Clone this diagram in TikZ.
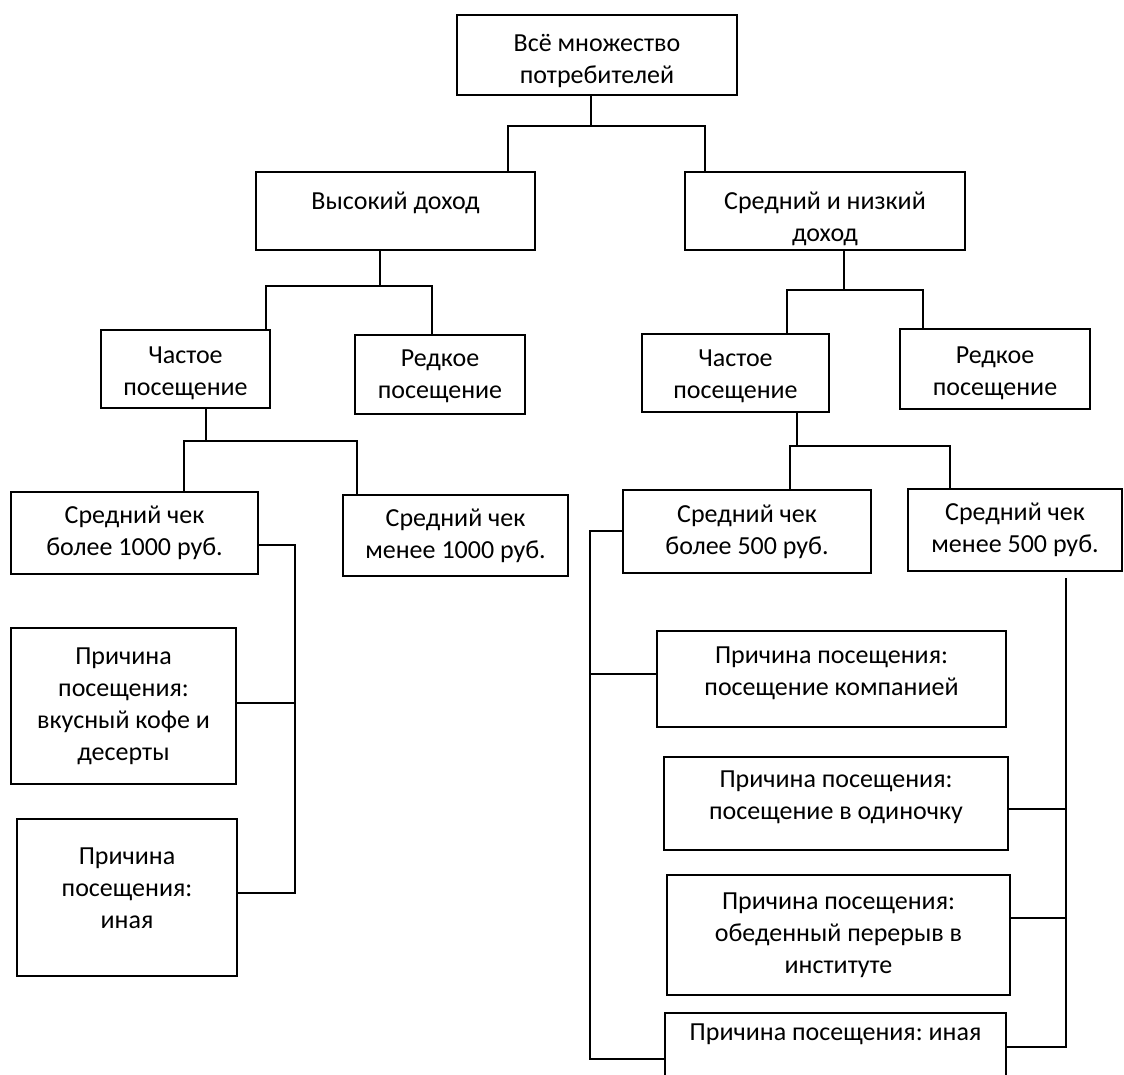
\documentclass[tikz,border=0pt]{standalone}
\usepackage{fontspec}
\setmainfont{Carlito}
\frenchspacing

\tikzset{
  box/.style={draw, line width=1pt, inner sep=0pt, align=center,
    font=\fontsize{13}{16}\selectfont},
  link/.style={line width=0.9pt},
}

\begin{document}
\begin{tikzpicture}[x=0.5pt,y=-0.5pt]
\useasboundingbox (0,0) rectangle (1124,1075);
\clip (0,0) rectangle (1124,1075);

\node[box, minimum width=140pt, minimum height=40pt, text height=30.5pt] (all) at (597,55) {Всё множество\\потребителей};

\node[box, minimum width=139.5pt, minimum height=39pt, text depth=10.5pt] (high) at (395.5,211) {Высокий доход};
\node[box, minimum width=140pt, minimum height=39pt, text height=33pt] (midlow) at (825,211) {Средний и низкий\\доход};

\node[box, minimum width=84.5pt, minimum height=39pt, text height=28.5pt] (freqA) at (185.5,369) {Частое\\посещение};
\node[box, minimum width=85pt, minimum height=39.5pt, text height=26.5pt] (rareA) at (440,374.5) {Редкое\\посещение};
\node[box, minimum width=93.5pt, minimum height=39pt, text height=27.5pt] (freqB) at (735.5,373) {Частое\\посещение};
\node[box, minimum width=95pt, minimum height=40pt, text height=28.5pt] (rareB) at (995,369) {Редкое\\посещение};

\node[box, minimum width=123.5pt, minimum height=41pt] (over1000) at (134.5,533) {Средний чек\\более 1000 руб.};
\node[box, minimum width=112.5pt, minimum height=40.5pt] (under1000) at (455.5,535.5) {Средний чек\\менее 1000 руб.};
\node[box, minimum width=124pt, minimum height=41.5pt] (over500) at (747,531.5) {Средний чек\\более 500 руб.};
\node[box, minimum width=107pt, minimum height=41pt] (under500) at (1015,530) {Средний чек\\менее 500 руб.};

\node[box, minimum width=112.5pt, minimum height=78pt] (tasteA) at (123.5,706) {Причина\\посещения:\\вкусный кофе и\\десерты};
\node[box, minimum width=110pt, minimum height=78.5pt, text depth=9pt] (otherA) at (127,897.5) {Причина\\посещения:\\иная};

\node[box, minimum width=174.5pt, minimum height=48pt, text depth=8.3pt] (company) at (831.5,679) {Причина посещения:\\посещение компанией};
\node[box, minimum width=172pt, minimum height=46.5pt, text depth=8.5pt] (alone) at (836,803.5) {Причина посещения:\\посещение в одиночку};
\node[box, minimum width=171.5pt, minimum height=60pt] (lunch) at (838.5,935) {Причина посещения:\\обеденный перерыв в\\институте};
\node[box, minimum width=170.5pt, minimum height=43.5pt, text depth=24pt] (otherB) at (835.5,1056.5) {Причина посещения: иная};

\coordinate (t1) at (591,126);
\coordinate (t1l) at (508,126);
\coordinate (t1r) at (705,126);
\draw[link] (all.south -| t1) -- (t1);
\draw[link] (high.north -| t1l) |- (t1r) -- (midlow.north -| t1r);

\coordinate (t2) at (380,286);
\coordinate (t2l) at (266,286);
\coordinate (t2r) at (432,286);
\draw[link] (high.south -| t2) -- (t2);
\draw[link] (freqA.north -| t2l) |- (t2r) -- (rareA.north -| t2r);

\coordinate (t3) at (844,290);
\coordinate (t3l) at (787,290);
\coordinate (t3r) at (923,290);
\draw[link] (midlow.south -| t3) -- (t3);
\draw[link] (freqB.north -| t3l) |- (t3r) -- (rareB.north -| t3r);

\coordinate (f1) at (206,441);
\coordinate (f1l) at (184,441);
\coordinate (f1r) at (357,441);
\draw[link] (freqA.south -| f1) -- (f1);
\draw[link] (over1000.north -| f1l) |- (f1r) -- (under1000.north -| f1r);

\coordinate (g1) at (797,446);
\coordinate (g1l) at (790,446);
\coordinate (g1r) at (950,446);
\draw[link] (freqB.south -| g1) -- (g1);
\draw[link] (over500.north -| g1l) |- (g1r) -- (under500.north -| g1r);

\coordinate (k1) at (295,545);
\coordinate (k2) at (295,893);
\coordinate (k3) at (295,703);
\draw[link] (k1 -| over1000.east) -- (k1) -- (k2) -- (k2 -| otherA.east);
\draw[link] (k3) -- (k3 -| tasteA.east);

\coordinate (l1) at (590,531);
\coordinate (l2) at (590,1059);
\coordinate (l3) at (590,674);
\draw[link] (l1 -| over500.west) -- (l1) -- (l2) -- (l2 -| otherB.west);
\draw[link] (l3) -- (l3 -| company.west);

\coordinate (r1) at (1066,578);
\coordinate (r2) at (1066,1047);
\coordinate (r3) at (1066,809);
\coordinate (r4) at (1066,918);
\draw[link] (r1) -- (r2) -- (r2 -| otherB.east);
\draw[link] (r3 -| alone.east) -- (r3);
\draw[link] (r4 -| lunch.east) -- (r4);

\end{tikzpicture}
\end{document}
